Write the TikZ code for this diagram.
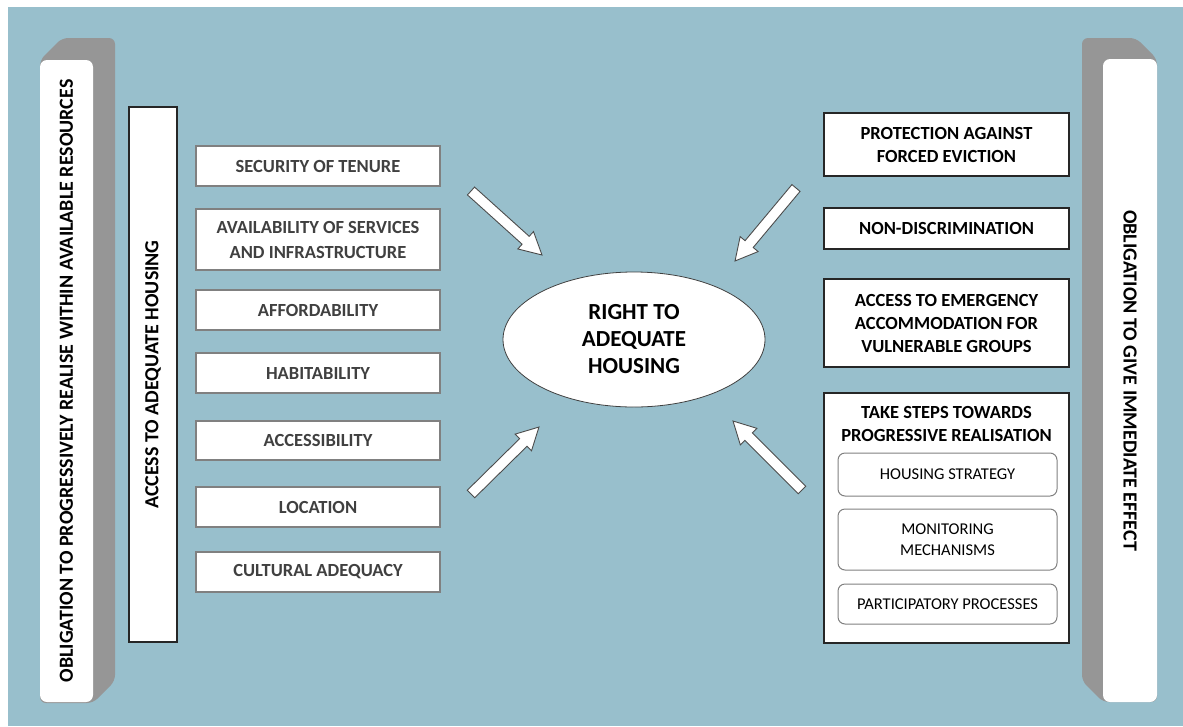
\documentclass[tikz,border=0pt]{standalone}
\usepackage{fontspec}
\setmainfont{Carlito}
\usetikzlibrary{shapes.geometric,calc}
\definecolor{bgblue}{RGB}{152,191,204}
\definecolor{pgray}{RGB}{150,150,150}
\definecolor{bgray}{RGB}{128,128,128}
\definecolor{tgray}{RGB}{64,64,64}
\newcommand{\blockarrow}[2]{%
  \path (#1); \pgfgetlastxy{\bax}{\bay}%
  \path (#2); \pgfgetlastxy{\bbx}{\bby}%
  \pgfmathsetmacro\bang{atan2(\bby-\bay,\bbx-\bax)}%
  \pgfmathsetmacro\blen{veclen(\bbx-\bax,\bby-\bay)}%
  \pgfmathsetmacro\bhb{\blen-22}%
  \draw[barrow, shift={(#1)}, rotate=\bang] (0,-5.3) -- (\bhb,-5.3) -- (\bhb,-11.7) -- (\blen,0) -- (\bhb,11.7) -- (\bhb,5.3) -- (0,5.3) -- cycle;}
\begin{document}
\begin{tikzpicture}[x=1pt,y=-1pt,
  pillar/.style={fill=white, rounded corners=7pt, inner sep=0pt, minimum height=53pt, text=black,
    font=\bfseries\fontsize{20}{24}\selectfont},
  accbox/.style={draw=black!85, line width=1.3pt, fill=white, inner sep=0pt, minimum height=48pt,
    text=black, font=\bfseries\fontsize{20}{24}\selectfont},
  lbox/.style={draw=bgray, line width=1.3pt, fill=white, minimum width=244pt, inner sep=0pt, align=center,
    text=tgray, font=\bfseries\fontsize{18.5}{25}\selectfont},
  rbox/.style={draw=black!85, line width=1.3pt, fill=white, minimum width=245pt, inner sep=0pt, align=center,
    text=black, font=\bfseries\fontsize{18.5}{23}\selectfont},
  rtitle/.style={inner sep=0pt, align=center, text=black, font=\bfseries\fontsize{18.5}{23}\selectfont},
  sbox/.style={draw=bgray, line width=1pt, rounded corners=7pt, fill=white, minimum width=219pt, inner sep=0pt,
    align=center, text=black, font=\fontsize{16.5}{21}\selectfont},
  center/.style={ellipse, draw=black!75, line width=0.8pt, fill=white, minimum width=262pt, minimum height=135pt,
    inner sep=0pt, align=center, text=black, font=\bfseries\fontsize{23}{27}\selectfont},
  barrow/.style={draw=black!70, line width=0.9pt, fill=white, line join=miter}
]
\useasboundingbox (0,0) rectangle (1183,726);
\fill[white] (0,0) rectangle (1183,726);
\fill[bgblue] (8,7) rectangle (1183,726);

% left pillar
\fill[pgray, rounded corners=6pt] (62,38) -- (115,38) -- (115,681) -- (93,703) -- (40,703) -- (40,60) -- cycle;
\node[pillar, rotate=90, minimum width=642pt] (lp) at (66.5,381) {OBLIGATION TO PROGRESSIVELY REALISE WITHIN AVAILABLE RESOURCES};

% right pillar
\fill[pgray, rounded corners=6pt] (1082,38) -- (1136,38) -- (1157,59) -- (1157,702) -- (1103,702) -- (1082,681) -- cycle;
\node[pillar, rotate=-90, minimum width=643pt, minimum height=54pt] (rp) at (1130,380.5) {OBLIGATION TO GIVE IMMEDIATE EFFECT};

% access box
\node[accbox, rotate=90, minimum width=535pt] (acc) at (153,374.5) {ACCESS TO ADEQUATE HOUSING};

% left list
\node[lbox, minimum height=40pt] (sec) at (318,166) {SECURITY OF TENURE};
\node[lbox, minimum height=61pt] (avail) at (318,239.5) {AVAILABILITY OF SERVICES\\AND INFRASTRUCTURE};
\node[lbox, minimum height=40pt] (aff) at (318,310) {AFFORDABILITY};
\node[lbox, minimum height=40pt] (hab) at (318,373) {HABITABILITY};
\node[lbox, minimum height=39pt] (accs) at (318,440.5) {ACCESSIBILITY};
\node[lbox, minimum height=40pt] (loc) at (318,507) {LOCATION};
\node[lbox, minimum height=40pt] (cult) at (318,572) {CULTURAL ADEQUACY};

% centre
\node[center] (rah) at (634,339.5) {RIGHT TO\\ADEQUATE\\HOUSING};

% right list
\node[rbox, minimum height=63pt] (prot) at (946.5,144.5) {PROTECTION AGAINST\\FORCED EVICTION};
\node[rbox, minimum height=41pt] (nond) at (946.5,228.5) {NON-DISCRIMINATION};
\node[rbox, minimum height=88pt] (emerg) at (946.5,323) {ACCESS TO EMERGENCY\\ACCOMMODATION FOR\\VULNERABLE GROUPS};
\node[rbox, minimum height=250pt] (steps) at (946.5,518) {};
\node[rtitle] (stitle) at (946.5,423.5) {TAKE STEPS TOWARDS\\PROGRESSIVE REALISATION};
\node[sbox, minimum height=43pt] (hs) at (947.5,474.5) {HOUSING STRATEGY};
\node[sbox, minimum height=61pt] (mon) at (947.5,539.5) {MONITORING\\MECHANISMS};
\node[sbox, minimum height=40pt] (part) at (947.5,604) {PARTICIPATORY PROCESSES};

% arrows
\coordinate (a1s) at (471,191); \coordinate (a1e) at (542,255);
\coordinate (a2s) at (796,188); \coordinate (a2e) at (735,261);
\coordinate (a3s) at (471,494); \coordinate (a3e) at (539,427);
\coordinate (a4s) at (802,490); \coordinate (a4e) at (733,421);
\blockarrow{a1s}{a1e}
\blockarrow{a2s}{a2e}
\blockarrow{a3s}{a3e}
\blockarrow{a4s}{a4e}
\end{tikzpicture}
\end{document}
